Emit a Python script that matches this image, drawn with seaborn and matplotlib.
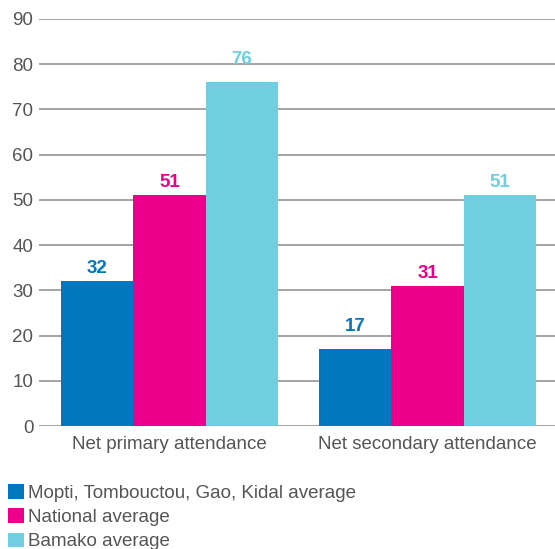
import pandas as pd
import matplotlib
matplotlib.use('Agg')
import matplotlib.pyplot as plt
import seaborn as sns
from matplotlib.patches import Patch

categories = ['Net primary attendance', 'Net secondary attendance']
groups = ['Mopti, Tombouctou, Gao, Kidal average', 'National average', 'Bamako average']
north_avg = [32, 17]
national_avg = [51, 31]
bamako_avg = [76, 51]
colors = ['#0077BE', '#EC008B', '#6FCFE0']

rows = []
for g, vals in zip(groups, [north_avg, national_avg, bamako_avg]):
    for c, v in zip(categories, vals):
        rows.append({'category': c, 'group': g, 'value': v})
df = pd.DataFrame(rows)

sns.set_style('white')
plt.rcParams['font.family'] = ['Liberation Sans', 'DejaVu Sans']

fig = plt.figure(figsize=(5.55, 5.49), dpi=100)
ax = fig.add_axes([0.0703, 0.224, 0.9297, 0.7414])

sns.barplot(data=df, x='category', y='value', hue='group', palette=colors,
            width=0.84, gap=0, saturation=1, legend=False, ax=ax, zorder=3,
            linewidth=0, edgecolor='none')

# labels that would sit on a gridline are lifted above it
label_pad = [[3, 10], [3, 3], [10, 3]]
for cont, col, pads in zip(ax.containers, colors, label_pad):
    for bar, pad in zip(cont, pads):
        ax.annotate(f'{bar.get_height():.0f}',
                    (bar.get_x() + bar.get_width() / 2, bar.get_height()),
                    xytext=(0, pad), textcoords='offset points',
                    ha='center', va='bottom', color=col,
                    fontweight='bold', fontsize=13.5)

ax.set_ylim(0, 90)
ax.set_xlim(-0.506, 1.494)
ax.set_yticks(range(0, 91, 10))
ax.yaxis.grid(True, color='#8c8c8c', linewidth=1.1, zorder=0)
ax.xaxis.grid(False)
for s in ax.spines.values():
    s.set_visible(False)
ax.tick_params(axis='both', length=0, labelsize=13.5, labelcolor='#555555')
ax.tick_params(axis='y', pad=4)
ax.tick_params(axis='x', pad=7)
ax.set_xlabel('')
ax.set_ylabel('')

handles = [Patch(facecolor=c, edgecolor='none') for c in colors]
fig.legend(handles, groups, loc='upper left', bbox_to_anchor=(0.014, 0.118),
           frameon=False, fontsize=13.5, handlelength=0.85, handleheight=0.85,
           handletextpad=0.25, labelspacing=0.33, borderpad=0, borderaxespad=0,
           labelcolor='#555555')

fig.savefig('out.png', dpi=100)
